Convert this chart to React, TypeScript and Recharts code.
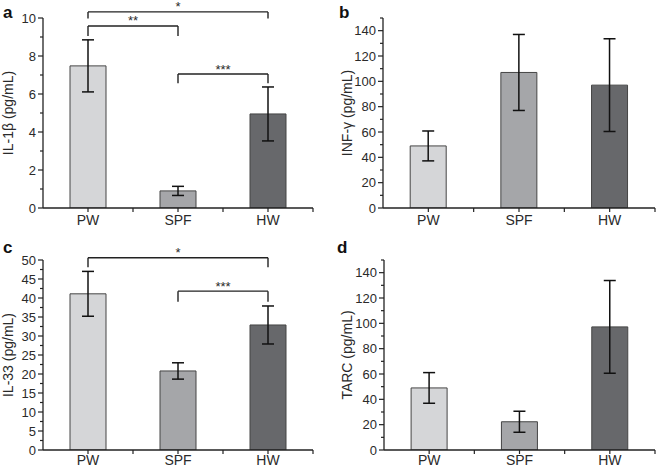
import { BarChart, Bar, XAxis, YAxis, Cell, ErrorBar, ReferenceLine } from 'recharts';

const groups = ['PW', 'SPF', 'HW'];
const groupColors = ['#d5d6d8', '#a5a6a9', '#67686b'];

// values (mean, +/- error)
const il1bMeans = [7.48, 0.9, 4.95];
const il1bErrors = [1.37, 0.24, 1.42];
const infgMeans = [49, 107, 97];
const infgErrors = [11.8, 30, 36.6];
const il33Means = [41.1, 20.8, 32.9];
const il33Errors = [5.9, 2.15, 5];
const tarcMeans = [49, 22.3, 97.2];
const tarcErrors = [12.1, 8.3, 36.6];

const il1bTicks = [0, 1, 2, 3, 4, 5, 6, 7, 8, 9, 10];
const il1bMajor = [0, 2, 4, 6, 8, 10];
const pgTicks = [0, 10, 20, 30, 40, 50, 60, 70, 80, 90, 100, 110, 120, 130, 140, 150];
const pgMajor = [0, 20, 40, 60, 80, 100, 120, 140];
const il33Ticks = [0, 2.5, 5, 7.5, 10, 12.5, 15, 17.5, 20, 22.5, 25, 27.5, 30, 32.5, 35, 37.5, 40, 42.5, 45, 47.5, 50];
const il33Major = [0, 5, 10, 15, 20, 25, 30, 35, 40, 45, 50];

// significance brackets: top of bracket and end of legs, in data units
const il1bBrackets = [
  { from: 'PW', to: 'HW', top: 10.32, leg: 9.98, stars: '*' },
  { from: 'PW', to: 'SPF', top: 9.58, leg: 9.05, stars: '**' },
  { from: 'SPF', to: 'HW', top: 7.05, leg: 6.56, stars: '***' },
];
const il33Brackets = [
  { from: 'PW', to: 'HW', top: 50.6, leg: 48.1, stars: '*' },
  { from: 'SPF', to: 'HW', top: 41.8, leg: 39.0, stars: '***' },
];

const ink = '#222';
const font = '"Liberation Sans", Arial, sans-serif';

const YTick = ({ x, y, payload, majors }: any) => {
  const isMajor = majors.includes(payload.value);
  return (
    <g>
      <line x1={x} x2={x - (isMajor ? 5 : 3)} y1={y} y2={y} stroke={ink} strokeWidth={1.2} />
      {isMajor && (
        <text x={x - 7} y={y + 4.5} textAnchor="end" fontSize={13} fill="#2a2a2a" fontFamily={font}>
          {payload.value}
        </text>
      )}
    </g>
  );
};

const XTick = ({ x, y, payload, labelDy }: any) => {
  const half = payload.offset || 0;
  return (
    <g>
      <line x1={x} x2={x} y1={y} y2={y + 4} stroke={ink} strokeWidth={1.2} />
      {half > 0 && <line x1={x + half} x2={x + half} y1={y} y2={y + 4} stroke={ink} strokeWidth={1.2} />}
      <text x={x} y={y + labelDy} textAnchor="middle" fontSize={14} fill="#2a2a2a" fontFamily={font}>
        {payload.value}
      </text>
    </g>
  );
};

const StarLabel = ({ viewBox, value }: any) => {
  if (!viewBox) return null;
  return (
    <text x={viewBox.x + viewBox.width / 2} y={viewBox.y - 0.5} textAnchor="middle" fontSize={13} fill="#2a2a2a" fontFamily={font}>
      {value}
    </text>
  );
};

function Panel({ letter, letterLeft, means, errors, ticks, majors, domain, yLabel, labelX, brackets, left, top, width, height, margin, yAxisWidth, xAxisHeight, xLabelDy }: any) {
  const data = groups.map((g, i) => ({ group: g, value: means[i], err: errors[i] }));

  const AxisTitle = (props: any) => {
    const vb = props.viewBox || { y: margin.top, height: height - margin.top - xAxisHeight };
    const cy = vb.y + vb.height / 2;
    return (
      <text x={labelX} y={cy} transform={`rotate(-90, ${labelX}, ${cy})`} textAnchor="middle" dominantBaseline="central" fontSize={14} fill="#2a2a2a" fontFamily={font}>
        {yLabel}
      </text>
    );
  };

  return (
    <div style={{ position: 'absolute', left, top, width, height }}>
      <BarChart width={width} height={height} data={data} margin={margin} barCategoryGap="30%">
        <XAxis
          dataKey="group"
          height={xAxisHeight}
          tickSize={0}
          tickMargin={0}
          tickLine={false}
          interval={0}
          axisLine={{ stroke: ink, strokeWidth: 1.3 }}
          tick={<XTick labelDy={xLabelDy} />}
        />
        <YAxis
          type="number"
          domain={domain}
          ticks={ticks}
          interval={0}
          allowDataOverflow
          width={yAxisWidth}
          tickSize={0}
          tickMargin={0}
          tickLine={false}
          axisLine={{ stroke: ink, strokeWidth: 1.3 }}
          tick={<YTick majors={majors} />}
          label={(p: any) => <AxisTitle {...p} />}
        />
        <Bar dataKey="value" isAnimationActive={false} stroke="#454545" strokeWidth={1}>
          {data.map((d, i) => (
            <Cell key={d.group} fill={groupColors[i]} />
          ))}
          <ErrorBar dataKey="err" width={6} stroke="#111" strokeWidth={1.5} direction="y" />
        </Bar>
        {brackets.map((b: any, i: number) => (
          <ReferenceLine
            key={`h${i}`}
            segment={[{ x: b.from, y: b.top }, { x: b.to, y: b.top }]}
            ifOverflow="visible"
            stroke={ink}
            strokeWidth={1.4}
            label={<StarLabel value={b.stars} />}
          />
        ))}
        {brackets.map((b: any, i: number) => (
          <ReferenceLine
            key={`l${i}`}
            segment={[{ x: b.from, y: b.top }, { x: b.from, y: b.leg }]}
            ifOverflow="visible"
            stroke={ink}
            strokeWidth={1.4}
          />
        ))}
        {brackets.map((b: any, i: number) => (
          <ReferenceLine
            key={`r${i}`}
            segment={[{ x: b.to, y: b.top }, { x: b.to, y: b.leg }]}
            ifOverflow="visible"
            stroke={ink}
            strokeWidth={1.4}
          />
        ))}
      </BarChart>
      <span
        style={{
          position: 'absolute',
          left: letterLeft,
          top: 3.6,
          fontSize: 17,
          lineHeight: '17px',
          fontWeight: 'bold',
          fontFamily: font,
          color: '#111',
        }}
      >
        {letter}
      </span>
    </div>
  );
}

export default function App() {
  return (
    <div style={{ position: 'absolute', left: 0, top: 0, width: 658, height: 469, background: '#fff', overflow: 'hidden' }}>
      <Panel
        letter="a" letterLeft={3}
        means={il1bMeans} errors={il1bErrors}
        ticks={il1bTicks} majors={il1bMajor} domain={[0, 10]}
        yLabel="IL-1β (pg/mL)" labelX={8}
        brackets={il1bBrackets}
        left={0} top={0} width={329} height={235}
        margin={{ top: 18, right: 16, left: 0, bottom: 0 }}
        yAxisWidth={43} xAxisHeight={27} xLabelDy={17}
      />
      <Panel
        letter="b" letterLeft={10}
        means={infgMeans} errors={infgErrors}
        ticks={pgTicks} majors={pgMajor} domain={[0, 150]}
        yLabel="INF-γ (pg/mL)" labelX={18}
        brackets={[]}
        left={329} top={0} width={329} height={235}
        margin={{ top: 18, right: 3, left: 0, bottom: 0 }}
        yAxisWidth={54} xAxisHeight={27} xLabelDy={17}
      />
      <Panel
        letter="c" letterLeft={3}
        means={il33Means} errors={il33Errors}
        ticks={il33Ticks} majors={il33Major} domain={[0, 50]}
        yLabel="IL-33 (pg/mL)" labelX={8}
        brackets={il33Brackets}
        left={0} top={235} width={329} height={234}
        margin={{ top: 25, right: 16, left: 0, bottom: 0 }}
        yAxisWidth={43} xAxisHeight={19} xLabelDy={15}
      />
      <Panel
        letter="d" letterLeft={8}
        means={tarcMeans} errors={tarcErrors}
        ticks={pgTicks} majors={pgMajor} domain={[0, 150]}
        yLabel="TARC (pg/mL)" labelX={18}
        brackets={[]}
        left={329} top={235} width={329} height={234}
        margin={{ top: 25, right: 3, left: 0, bottom: 0 }}
        yAxisWidth={55} xAxisHeight={19} xLabelDy={15}
      />
    </div>
  );
}
